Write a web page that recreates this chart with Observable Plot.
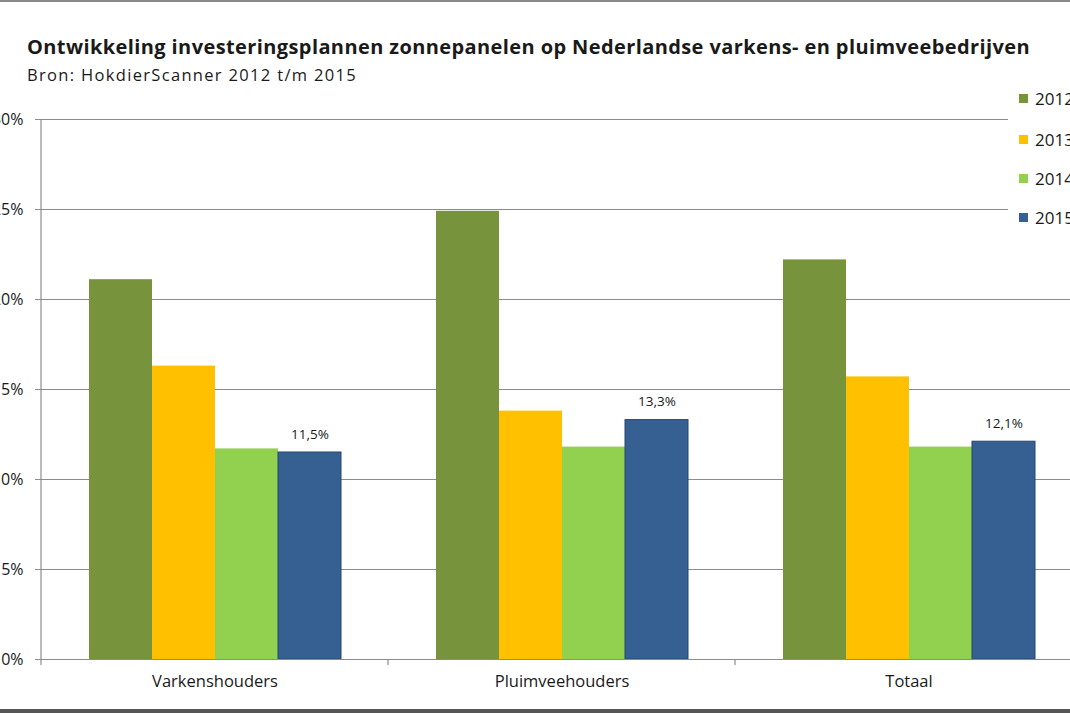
<!DOCTYPE html>
<html>
<head>
<meta charset="utf-8">
<script src="https://cdn.jsdelivr.net/npm/d3@7"></script>
<script src="https://cdn.jsdelivr.net/npm/@observablehq/plot@0.6"></script>
<style>
  html, body { margin: 0; padding: 0; background: #fff; overflow: hidden; }
  #page { position: relative; width: 1070px; height: 713px; overflow: hidden; background: #fff; font-family: "Open Sans", sans-serif; }
  #title { position: absolute; left: 27px; top: 35px; font-size: 20px; font-weight: bold; color: #1a1a1a; white-space: nowrap; line-height: 1.2; }
  #subtitle { position: absolute; left: 27px; top: 65px; font-size: 16.5px; color: #1a1a1a; white-space: nowrap; line-height: 1.2; }
  #chart { position: absolute; left: -20px; top: 100px; width: 1102px; }
  #legend { position: absolute; left: 1008px; top: 85px; width: 120px; height: 150px; background: #fff; }
  .item { position: absolute; left: 11px; font-size: 17px; color: #1a1a1a; white-space: nowrap; line-height: 20px; }
  .sw { display: inline-block; width: 9px; height: 9px; margin-right: 7px; vertical-align: 2px; }
  #topline { position: absolute; left: 0; top: 0; width: 1070px; height: 2px; background: #8a8a8a; }
  #bottomline { position: absolute; left: 0; top: 709px; width: 1070px; height: 4px; background: #555; }
</style>
</head>
<body>
<div id="page">
  <div id="topline"></div>
  <div id="title"></div>
  <div id="subtitle"></div>
  <div id="chart"></div>
  <div id="legend"></div>
  <div id="bottomline"></div>
</div>
<script>
const titleText = "Ontwikkeling investeringsplannen zonnepanelen op Nederlandse varkens- en pluimveebedrijven";
const subtitleText = "Bron: HokdierScanner 2012 t/m 2015";
const categories = ["Varkenshouders", "Pluimveehouders", "Totaal"];
const years = ["2012", "2013", "2014", "2015"];
const values2012 = [21.1, 24.9, 22.2];
const values2013 = [16.3, 13.8, 15.7];
const values2014 = [11.7, 11.8, 11.8];
const values2015 = [11.5, 13.3, 12.1];
const yTicks = [0, 5, 10, 15, 20, 25, 30];
const colors = ["#77933C", "#FFC000", "#92D050", "#376092"];
const labeledYear = "2015";

function fitText(el, target) {
  el.style.letterSpacing = "0px";
  const w = el.getBoundingClientRect().width;
  const n = el.textContent.length;
  el.style.letterSpacing = ((target - w) / n) + "px";
}
const tEl = document.getElementById("title");
tEl.textContent = titleText;
fitText(tEl, 1003);
const sEl = document.getElementById("subtitle");
sEl.textContent = subtitleText;
fitText(sEl, 330);

const series = [values2012, values2013, values2014, values2015];
const data = [];
categories.forEach((c, i) => years.forEach((yr, j) => data.push({cat: c, year: yr, value: series[j][i]})));

const fmt = v => v.toFixed(1).replace(".", ",") + "%";

const chart = Plot.plot({
  width: 1102,
  height: 600,
  marginLeft: 61,
  marginRight: 0,
  marginTop: 19,
  marginBottom: 41,
  style: {fontFamily: "'Open Sans', sans-serif", color: "#1a1a1a", background: "transparent", maxWidth: "none"},
  fx: {domain: categories, padding: 0, label: null},
  x: {domain: years, paddingInner: 0, paddingOuter: 0.743, axis: null},
  y: {domain: [0, 30], ticks: yTicks, label: null},
  color: {domain: years, range: colors},
  marks: [
    Plot.gridY(yTicks, {stroke: "#8c8c8c", strokeOpacity: 1, strokeWidth: 1}),
    Plot.barY(data, {fx: "cat", x: "year", y: "value", fill: "year"}),
    Plot.barY(data.filter(d => d.year === labeledYear), {fx: "cat", x: "year", y: "value", fill: "none", stroke: "#24466f", strokeWidth: 1}),
    Plot.text(data.filter(d => d.year === labeledYear), {fx: "cat", x: "year", y: "value", text: d => fmt(d.value), dy: -18, fontSize: 13.5, fill: "#1a1a1a"}),
    Plot.ruleY([0], {stroke: "#8c8c8c", strokeWidth: 1.2}),
    Plot.axisY(yTicks, {anchor: "left", tickSize: 6, tickPadding: 12, stroke: "#8c8c8c", fontSize: 16, tickFormat: d => d + "%", label: null}),
    Plot.axisFx({anchor: "bottom", tickSize: 0, tickPadding: 16, fontSize: 16.5, label: null})
  ]
});

// y-axis line and category boundary ticks using the plot's own scales
const fxS = chart.scale("fx");
const yS = chart.scale("y");
const svg = d3.select(chart);
const g = svg.append("g").attr("stroke", "#8c8c8c").attr("stroke-width", 1.2);
const x0 = fxS.apply(categories[0]);
g.append("line").attr("x1", x0).attr("x2", x0).attr("y1", yS.apply(0)).attr("y2", yS.apply(30));
const bounds = categories.map(c => fxS.apply(c)).concat([fxS.apply(categories[categories.length - 1]) + fxS.bandwidth]);
bounds.forEach(b => g.append("line").attr("x1", b).attr("x2", b).attr("y1", yS.apply(0)).attr("y2", yS.apply(0) + 6));

document.getElementById("chart").appendChild(chart);

// legend
const legend = document.getElementById("legend");
const legendTops = [4, 45, 84, 123];
years.forEach((yr, i) => {
  const d = document.createElement("div");
  d.className = "item";
  d.style.top = legendTops[i] + "px";
  d.innerHTML = `<span class="sw" style="background:${colors[i]}"></span>${yr}`;
  legend.appendChild(d);
});
</script>
</body>
</html>
